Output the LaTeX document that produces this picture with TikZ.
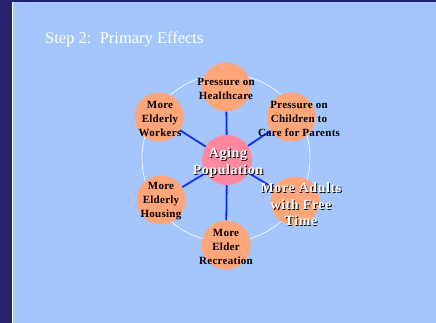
\documentclass[tikz,border=0pt]{standalone}
\usepackage{fontspec}
\setmainfont{Liberation Serif}
\newfontfamily\effectfont[LetterSpace=2.5]{Liberation Serif}
\newfontfamily\causefont[LetterSpace=4]{Liberation Serif}
\usetikzlibrary{positioning}
\definecolor{slidebg}{RGB}{165,198,252}
\definecolor{slideframe}{RGB}{36,35,112}
\definecolor{effectfill}{RGB}{255,165,122}
\definecolor{agingfill}{RGB}{255,136,158}
\definecolor{spokeblue}{RGB}{16,48,246}
\newcommand{\shadowline}[1]{\leavevmode\rlap{\hspace{0.9pt}\raisebox{-0.9pt}{\color{black}#1}}#1}
\tikzstyle{effect} = [circle, minimum size=49pt, inner sep=0pt, fill=effectfill]
\tikzstyle{cause} = [circle, minimum size=50pt, inner sep=0pt, fill=agingfill]
\tikzstyle{effecttext} = [align=center, text=black, inner sep=0pt, font=\effectfont\fontsize{11}{14}\selectfont\bfseries]
\tikzstyle{whitetext} = [align=center, text=white, inner sep=0pt, font=\causefont\fontsize{14}{16.5}\selectfont\bfseries]
\tikzstyle{spoke} = [line width=1.8pt, spokeblue]

\begin{document}
\begin{tikzpicture}[x=1pt, y=-1pt]
        \useasboundingbox (0,0) rectangle (436,323);
        \fill[slideframe] (0,0) rectangle (436,323);
        \fill[slidebg] (13,2) rectangle (436,323);
        \draw[white, line width=1pt] (12.5,2) -- (12.5,323);
        \node (title) [anchor=base west, text=white, inner sep=0pt, font=\fontsize{16.5}{18}\selectfont] at (45,44) {Step 2:\ \ Primary Effects};

        \draw[white, line width=0.6pt] (226,158) circle (84);

        \node (aging) [cause] at (227,160) {};
        \node (healthcare) [effect] at (226,87) {};
        \node (workers) [effect] at (159,117) {};
        \node (children) [effect] at (291,117) {};
        \node (housing) [effect] at (161,200) {};
        \node (freetime) [effect] at (295,201) {};
        \node (recreation) [effect] at (226,245) {};

        \draw [spoke] (aging) -- (healthcare);
        \draw [spoke] (aging) -- (workers);
        \draw [spoke] (aging) -- (children);
        \draw [spoke] (aging) -- (housing);
        \draw [spoke] (aging) -- (freetime);
        \draw [spoke] (aging) -- (recreation);

        \node (healthcaretext) [effecttext] at (226,89) {Pressure on\\Healthcare};
        \node (workerstext) [effecttext] at (160,119) {More\\Elderly\\Workers};
        \node (childrentext) [effecttext] at (299,119) {Pressure on\\Children to\\Care for Parents};
        \node (housingtext) [effecttext] at (161,201) {More\\Elderly\\Housing};
        \node (recreationtext) [effecttext] at (226,247) {More\\Elder\\Recreation};
        \node (agingtext) [whitetext] at (228,163) {\shadowline{Aging}\\\shadowline{Population}};
        \node (freetimetext) [whitetext] at (301,205) {\shadowline{More Adults}\\\shadowline{with Free}\\\shadowline{Time}};
    \end{tikzpicture}
\end{document}
